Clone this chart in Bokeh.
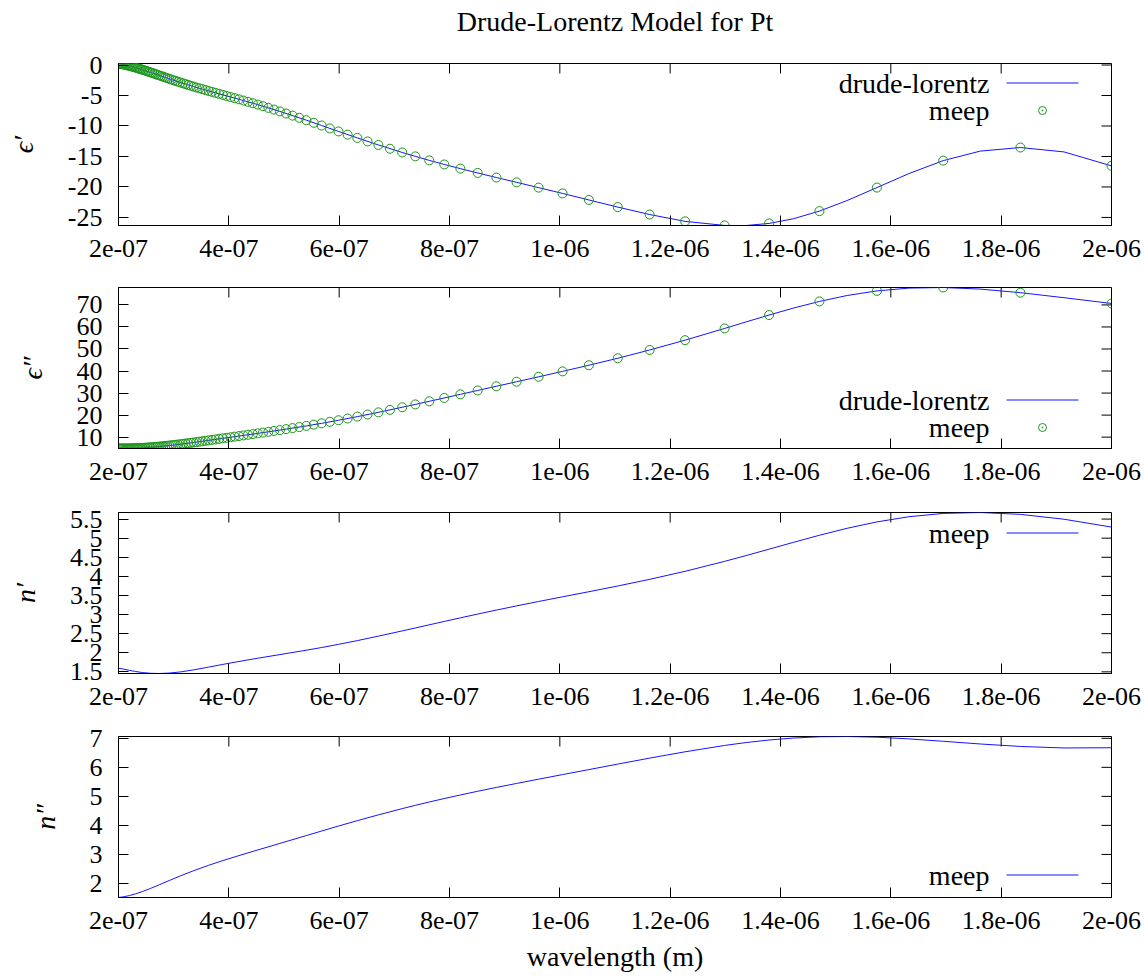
import math
from bokeh.plotting import figure
from bokeh.layouts import column
from bokeh.models import Range1d, FixedTicker, Label, Arrow, BoxAnnotation
from bokeh.embed import file_html
from bokeh.resources import INLINE

FONT = "Liberation Serif"
FS = "26px"      # numbers
FS_WORD = "28px"  # words
BLUE = "#1414ff"
GREEN = "#1a961a"

# ---------------- data (wavelength in micrometres) ----------------
# drude-lorentz curve
lam_line_um = [2.0, 1.91388, 1.83486, 1.76211, 1.69492, 1.63265, 1.57480, 1.52091, 1.47059, 1.42349,
               1.37931, 1.33779, 1.29870, 1.22699, 1.16279, 1.10497, 1.05263, 1.00503, 0.96154, 0.92166,
               0.88496, 0.85106, 0.81967, 0.79051, 0.76336, 0.73801, 0.71429, 0.67114, 0.63291, 0.59880,
               0.56818, 0.54054, 0.49261, 0.45249, 0.41841, 0.38911, 0.36364, 0.33613, 0.31250, 0.29197,
               0.27397, 0.25806, 0.24390, 0.23121, 0.21978, 0.20942, 0.20]
eps_re_line = [-16.54, -14.25, -13.53, -14.12, -15.68, -17.81, -20.10, -22.22, -23.96, -25.21,
               -25.98, -26.32, -26.31, -25.64, -24.52, -23.30, -22.13, -21.06, -20.11, -19.24,
               -18.45, -17.70, -16.99, -16.31, -15.64, -14.98, -14.34, -13.11, -11.95, -10.89,
               -9.92, -9.05, -7.61, -6.50, -5.62, -4.90, -4.26, -3.54, -2.87, -2.26,
               -1.70, -1.21, -0.78, -0.42, -0.13, 0.09, 0.25]
eps_im_line = [70.65, 73.28, 75.56, 77.18, 77.91, 77.63, 76.37, 74.28, 71.59, 68.57,
               65.41, 62.30, 59.33, 54.00, 49.54, 45.80, 42.62, 39.85, 37.38, 35.14,
               33.08, 31.18, 29.42, 27.78, 26.26, 24.85, 23.55, 21.25, 19.30, 17.66,
               16.27, 15.09, 13.19, 11.71, 10.49, 9.45, 8.54, 7.57, 6.79, 6.17,
               5.70, 5.35, 5.11, 4.96, 4.87, 4.84, 4.84]
n_re = [5.290, 5.496, 5.623, 5.672, 5.648, 5.561, 5.426, 5.259, 5.076, 4.891,
        4.712, 4.545, 4.393, 4.132, 3.922, 3.748, 3.598, 3.465, 3.342, 3.227,
        3.117, 3.013, 2.914, 2.820, 2.732, 2.649, 2.572, 2.435, 2.318, 2.220,
        2.137, 2.067, 1.952, 1.857, 1.772, 1.695, 1.625, 1.552, 1.499, 1.468,
        1.457, 1.462, 1.481, 1.509, 1.540, 1.570, 1.597]
n_im = [6.675, 6.667, 6.719, 6.804, 6.897, 6.980, 7.038, 7.062, 7.052, 7.009,
        6.941, 6.854, 6.754, 6.535, 6.317, 6.111, 5.922, 5.750, 5.592, 5.445,
        5.307, 5.175, 5.048, 4.925, 4.806, 4.690, 4.578, 4.363, 4.163, 3.977,
        3.806, 3.650, 3.379, 3.154, 2.960, 2.787, 2.627, 2.439, 2.263, 2.100,
        1.955, 1.829, 1.725, 1.643, 1.582, 1.541, 1.516]

# meep sample points
lam_meep_um = [2.0, 1.83486, 1.69492, 1.57480, 1.47059, 1.37931, 1.29870, 1.22699, 1.16279, 1.10497,
               1.05263, 1.00503, 0.96154, 0.92166, 0.88496, 0.85106, 0.81967, 0.79051, 0.76336, 0.73801,
               0.71429, 0.69204, 0.67114, 0.65147, 0.63291, 0.61538, 0.59880, 0.58309, 0.56818, 0.55402,
               0.54054, 0.52770, 0.51546, 0.50378, 0.49261, 0.48193, 0.47170, 0.46189, 0.45249, 0.44346,
               0.43478, 0.42644, 0.41841, 0.41068, 0.40323, 0.39604, 0.38911, 0.38241, 0.37594, 0.36969,
               0.36364, 0.35778, 0.35211, 0.34662, 0.34130, 0.33613, 0.33113, 0.32626, 0.32154, 0.31696,
               0.31250, 0.30817, 0.30395, 0.29985, 0.29586, 0.29197, 0.28818, 0.28450, 0.28090, 0.27739,
               0.27397, 0.27064, 0.26738, 0.26420, 0.26110, 0.25806, 0.25510, 0.25221, 0.24938, 0.24661,
               0.24390, 0.24125, 0.23866, 0.23613, 0.23364, 0.23121, 0.22883, 0.22650, 0.22422, 0.22198,
               0.21978, 0.21763, 0.21552, 0.21345, 0.21142, 0.20942, 0.20747, 0.20555, 0.20367, 0.20182,
               0.20]
eps_re_meep = [-16.54, -13.53, -15.68, -20.10, -23.96, -25.98, -26.31, -25.64, -24.52, -23.30,
               -22.13, -21.06, -20.11, -19.24, -18.45, -17.70, -16.99, -16.31, -15.64, -14.98,
               -14.34, -13.73, -13.11, -12.53, -11.95, -11.42, -10.89, -10.40, -9.92, -9.48,
               -9.05, -8.66, -8.30, -7.95, -7.61, -7.31, -7.03, -6.75, -6.50, -6.26,
               -6.04, -5.83, -5.62, -5.43, -5.25, -5.07, -4.90, -4.73, -4.57, -4.41,
               -4.26, -4.11, -3.96, -3.82, -3.68, -3.54, -3.40, -3.26, -3.13, -3.00,
               -2.87, -2.74, -2.62, -2.50, -2.38, -2.26, -2.14, -2.03, -1.92, -1.81,
               -1.70, -1.60, -1.50, -1.40, -1.30, -1.21, -1.12, -1.03, -0.94, -0.86,
               -0.78, -0.71, -0.63, -0.56, -0.49, -0.42, -0.36, -0.30, -0.24, -0.19,
               -0.13, -0.08, -0.04, 0.01, 0.05, 0.09, 0.13, 0.16, 0.20, 0.23,
               0.25]
eps_im_meep = [70.65, 75.56, 77.91, 76.37, 71.59, 65.41, 59.33, 54.00, 49.54, 45.80,
               42.62, 39.85, 37.38, 35.14, 33.08, 31.18, 29.42, 27.78, 26.26, 24.85,
               23.55, 22.37, 21.25, 20.25, 19.30, 18.46, 17.66, 16.95, 16.27, 15.67,
               15.09, 14.58, 14.10, 13.64, 13.19, 12.79, 12.42, 12.06, 11.71, 11.39,
               11.08, 10.78, 10.49, 10.22, 9.95, 9.69, 9.45, 9.21, 8.98, 8.76,
               8.54, 8.33, 8.13, 7.94, 7.75, 7.57, 7.40, 7.24, 7.09, 6.93,
               6.79, 6.65, 6.53, 6.40, 6.28, 6.17, 6.06, 5.96, 5.87, 5.78,
               5.70, 5.62, 5.55, 5.48, 5.41, 5.35, 5.29, 5.24, 5.20, 5.15,
               5.11, 5.07, 5.04, 5.01, 4.98, 4.96, 4.93, 4.91, 4.90, 4.88,
               4.87, 4.86, 4.85, 4.85, 4.84, 4.84, 4.84, 4.84, 4.84, 4.84,
               4.84]

x_ticks = [2e-07, 4e-07, 6e-07, 8e-07, 1e-06, 1.2e-06, 1.4e-06, 1.6e-06, 1.8e-06, 2e-06]
x_tick_labels = ["2e-07", "4e-07", "6e-07", "8e-07", "1e-06", "1.2e-06", "1.4e-06", "1.6e-06", "1.8e-06", "2e-06"]
eps_re_ticks = [-25, -20, -15, -10, -5, 0]
eps_re_labels = ["-25", "-20", "-15", "-10", "-5", "0"]
eps_im_ticks = [10, 20, 30, 40, 50, 60, 70]
eps_im_labels = ["10", "20", "30", "40", "50", "60", "70"]
n_re_ticks = [1.5, 2, 2.5, 3, 3.5, 4, 4.5, 5, 5.5]
n_re_labels = ["1.5", "2", "2.5", "3", "3.5", "4", "4.5", "5", "5.5"]
n_im_ticks = [2, 3, 4, 5, 6, 7]
n_im_labels = ["2", "3", "4", "5", "6", "7"]

lam_line = [v * 1e-6 for v in lam_line_um]
lam_meep = [v * 1e-6 for v in lam_meep_um]

W = 1142
x_range = Range1d(2e-07, 2e-06)


def style_axis(ax):
    ax.major_tick_in = 10
    ax.major_tick_out = 0
    ax.minor_tick_in = 0
    ax.minor_tick_out = 0
    ax.minor_tick_line_color = None
    ax.major_tick_line_color = "black"
    ax.axis_line_color = "black"
    ax.major_label_text_font = FONT
    ax.major_label_text_font_size = FS
    ax.major_label_text_color = "black"


def panel(height, top, bottom, yvals, yticks, ylabels, ytitle, xtitle=None):
    yr = Range1d(min(yvals), max(yvals))
    p = figure(width=W, height=height, x_range=x_range, y_range=yr,
               output_backend="svg", toolbar_location=None, title_location=None,
               min_border_left=118, min_border_right=31,
               min_border_top=top, min_border_bottom=bottom)
    p.grid.visible = False
    p.outline_line_color = "black"
    p.outline_line_alpha = 1
    p.background_fill_color = "white"
    p.border_fill_color = "white"

    xa = p.xaxis[0]
    style_axis(xa)
    xa.ticker = FixedTicker(ticks=x_ticks)
    xa.major_label_overrides = dict(zip(x_ticks, x_tick_labels))
    xa.major_label_standoff = 14
    if xtitle:
        xa.axis_label = xtitle
        xa.axis_label_text_font = FONT
        xa.axis_label_text_font_size = FS_WORD
        xa.axis_label_text_font_style = "normal"
        xa.axis_label_text_color = "black"
        xa.axis_label_standoff = 9

    ya = p.yaxis[0]
    style_axis(ya)
    ya.ticker = FixedTicker(ticks=yticks)
    ya.major_label_overrides = dict(zip(yticks, ylabels))
    ya.major_label_standoff = 16
    ya.axis_label = ytitle
    ya.axis_label_text_font = FONT
    ya.axis_label_text_font_size = FS_WORD
    ya.axis_label_text_font_style = "italic"
    ya.axis_label_text_color = "black"
    ya.axis_label_standoff = 26

    # mirrored inward ticks on the top and right edges
    p.ray(x=x_ticks, y=[yr.end] * len(x_ticks), length=10, length_units="screen",
          angle=-math.pi / 2, line_color="black", line_width=1)
    p.ray(x=[x_range.end] * len(yticks), y=yticks, length=10, length_units="screen",
          angle=math.pi, line_color="black", line_width=1)
    return p


def key_text(p, text, y):
    p.add_layout(Label(x=871, y=y, x_units="screen", y_units="screen", text=text,
                       text_align="right", text_baseline="middle", text_font=FONT,
                       text_font_size=FS_WORD, text_color="black"))


def key_line(p, y):
    p.add_layout(Arrow(x_start=888, y_start=y + 0.5, x_end=960, y_end=y + 0.5, start_units="screen",
                       end_units="screen", start=None, end=None, line_color=BLUE, line_width=1,
                       line_alpha=1))


def key_circle(p, y):
    p.add_layout(BoxAnnotation(left=920, right=928, bottom=y - 4, top=y + 4,
                               left_units="screen", right_units="screen",
                               bottom_units="screen", top_units="screen",
                               border_radius=4, fill_alpha=0, line_color=GREEN, line_width=1,
                               line_alpha=1))
    p.add_layout(BoxAnnotation(left=923.3, right=924.7, bottom=y - 0.7, top=y + 0.7,
                               left_units="screen", right_units="screen",
                               bottom_units="screen", top_units="screen",
                               fill_color=GREEN, fill_alpha=1, line_color=None))


# title strip
pt = figure(width=W, height=50, x_range=Range1d(0, 1), y_range=Range1d(0, 1),
            output_backend="svg", toolbar_location=None,
            x_axis_location=None, y_axis_location=None,
            min_border_left=118, min_border_right=31, min_border_top=0, min_border_bottom=0,
            title="Drude-Lorentz Model for Pt")
pt.grid.visible = False
pt.outline_line_color = None
pt.background_fill_color = "white"
pt.border_fill_color = "white"
pt.title.align = "center"
pt.title.vertical_align = "bottom"
pt.title.text_font = FONT
pt.title.text_font_size = FS_WORD
pt.title.text_font_style = "normal"
pt.title.text_color = "black"
pt.title.standoff = 6

# panel 1: eps'
p1 = panel(220, 13, 45, eps_re_line + eps_re_meep, eps_re_ticks, eps_re_labels, "ϵ′")
p1.line(lam_line, eps_re_line, line_color=BLUE, line_width=1)
p1.scatter(lam_meep, eps_re_meep, marker="circle", size=9, fill_color=None,
           line_color=GREEN, line_width=1)
key_text(p1, "drude-lorentz", 142)
key_line(p1, 142)
key_text(p1, "meep", 115)
key_circle(p1, 115)

# panel 2: eps''
p2 = panel(223, 17, 45, eps_im_line + eps_im_meep, eps_im_ticks, eps_im_labels, "ϵ″")
p2.line(lam_line, eps_im_line, line_color=BLUE, line_width=1)
p2.scatter(lam_meep, eps_im_meep, marker="circle", size=9, fill_color=None,
           line_color=GREEN, line_width=1)
key_text(p2, "drude-lorentz", 48)
key_line(p2, 48)
key_text(p2, "meep", 21)
key_circle(p2, 21)

# panel 3: n'
p3 = panel(225, 19, 45, n_re, n_re_ticks, n_re_labels, "n′")
p3.line(lam_line, n_re, line_color=BLUE, line_width=1)
key_text(p3, "meep", 140)
key_line(p3, 140)

# panel 4: n''
p4 = panel(256, 18, 76, n_im, n_im_ticks, n_im_labels, "n″", xtitle="wavelength (m)")
p4.line(lam_line, n_im, line_color=BLUE, line_width=1)
key_text(p4, "meep", 22)
key_line(p4, 22)

layout = column(pt, p1, p2, p3, p4, spacing=0)
open("out.html", "w").write(file_html(layout, INLINE))
